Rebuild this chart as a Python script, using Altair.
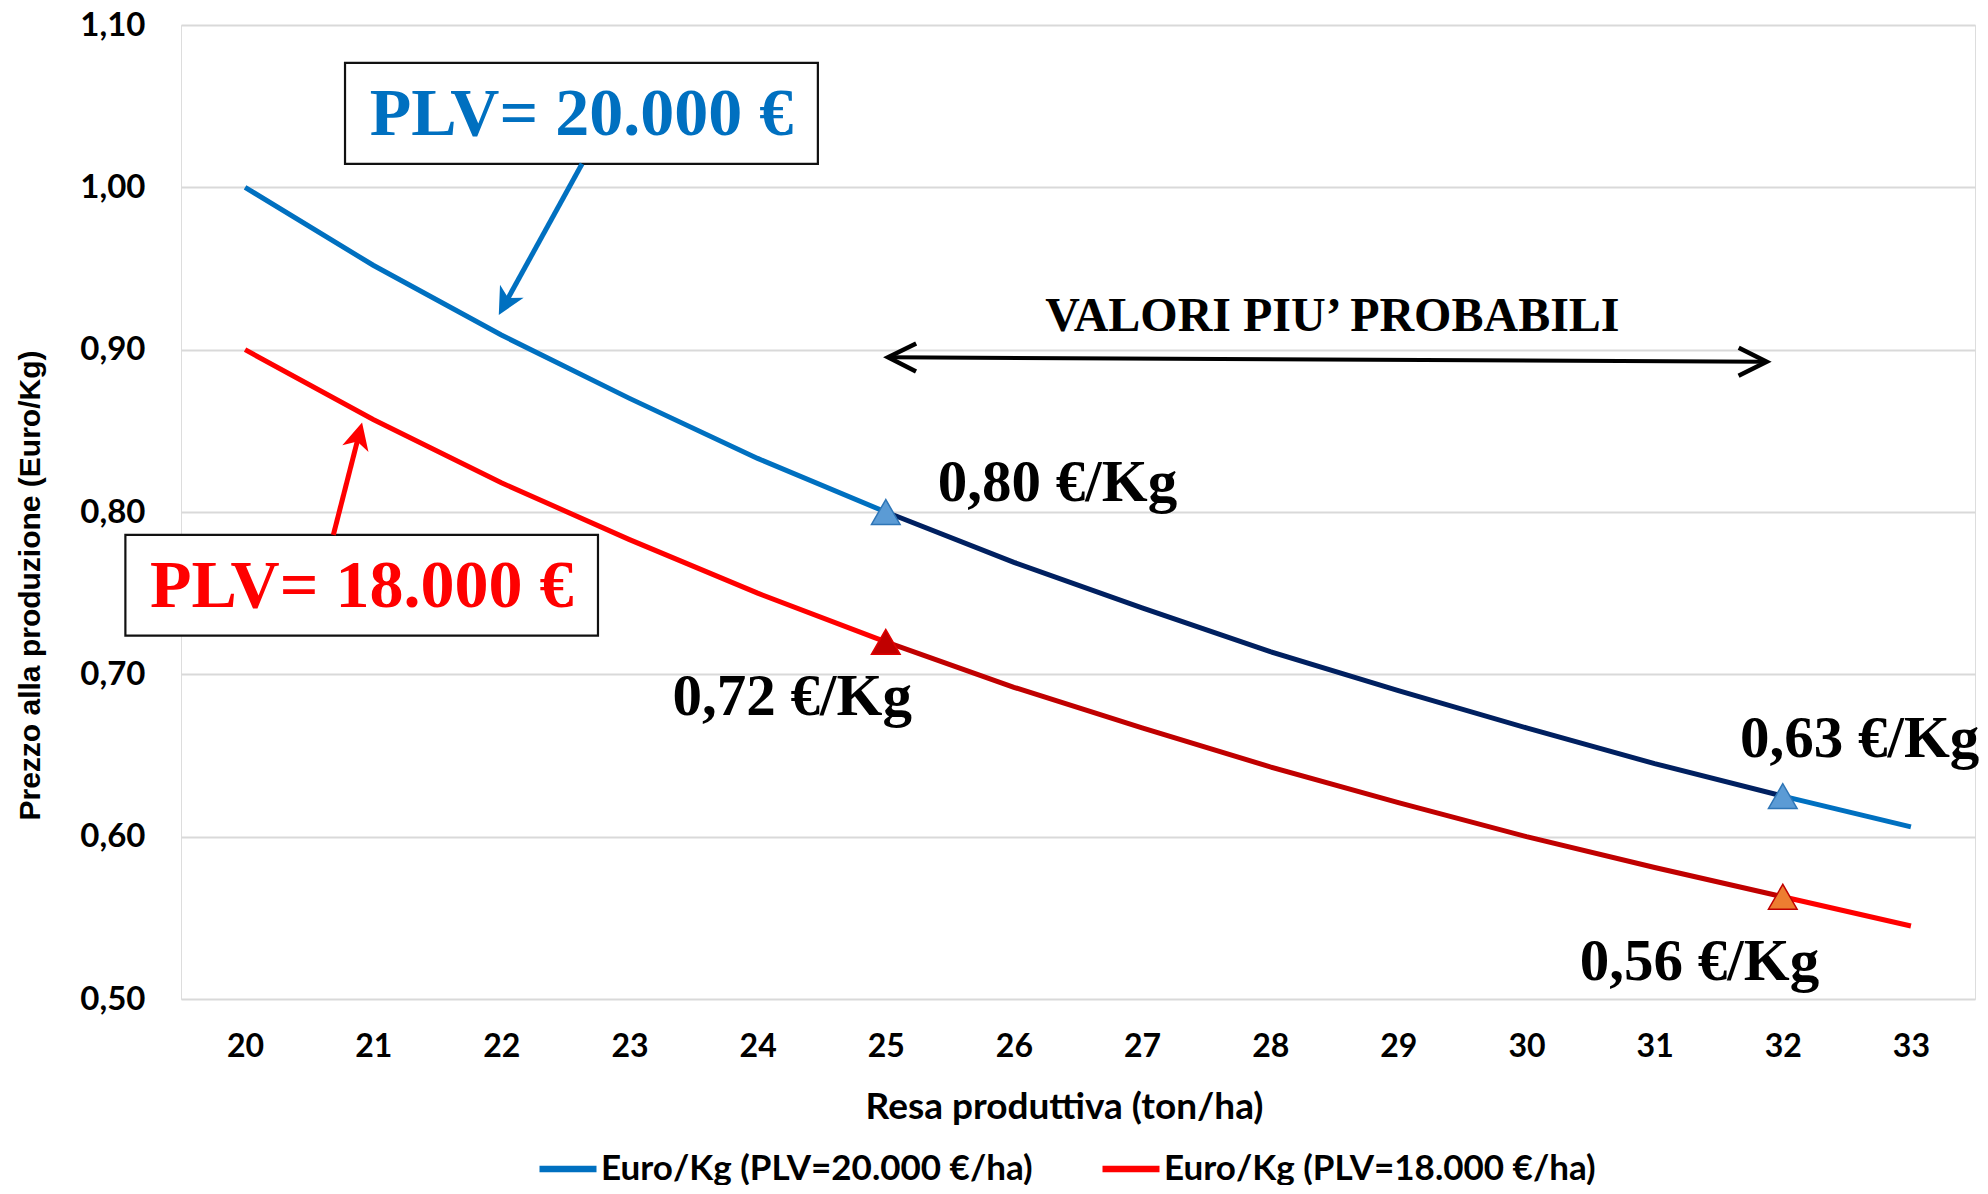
import math
import altair as alt
import pandas as pd

# ---------------- data ----------------
resa = [20, 21, 22, 23, 24, 25, 26, 27, 28, 29, 30, 31, 32, 33]
euro_kg_20000 = [1.000, 0.952, 0.909, 0.870, 0.833, 0.800, 0.769, 0.741,
                 0.714, 0.690, 0.667, 0.645, 0.625, 0.606]
euro_kg_18000 = [0.900, 0.857, 0.818, 0.783, 0.750, 0.720, 0.692, 0.667,
                 0.643, 0.621, 0.600, 0.581, 0.563, 0.545]
series_names = ["Euro/Kg (PLV=20.000 €/ha)", "Euro/Kg (PLV=18.000 €/ha)"]
y_ticks = [0.50, 0.60, 0.70, 0.80, 0.90, 1.00, 1.10]
probable_range = [25, 32]

value_labels = ["0,80 €/Kg", "0,72 €/Kg", "0,63 €/Kg", "0,56 €/Kg"]
value_label_x = [26.34, 24.27, 32.60, 31.35]
value_label_y = [0.818, 0.686, 0.660, 0.523]

box_texts = ["PLV= 20.000 €", "PLV= 18.000 €"]
box_x1 = [20.78, 19.066]
box_x2 = [24.47, 22.754]
box_y1 = [1.0145, 0.7238]
box_y2 = [1.0767, 0.7859]
box_text_y = [1.0445, 0.7536]
arrow_start_x = [22.63, 20.689]
arrow_start_y = [1.0145, 0.7859]
arrow_tip_x = [21.98, 20.913]
arrow_tip_y = [0.9214, 0.8551]

range_text = "VALORI PIU’ PROBABILI"
range_text_x = 28.485
range_text_y = 0.920
range_arrow_x = [25.018, 31.874]
range_arrow_y = [0.8953, 0.8925]

# ---------------- styling ----------------
W, H = 1794, 974
X_DOM = [19.5, 33.5]
Y_DOM = [0.5, 1.1]
PX_X = W / (X_DOM[1] - X_DOM[0])
PX_Y = H / (Y_DOM[1] - Y_DOM[0])

main_colors = ["#0070C0", "#FF0000"]
dark_colors = ["#002060", "#C00000"]
SERIF = "Liberation Serif"
SANS = "Lato"

xs = alt.Scale(domain=X_DOM, nice=False, zero=False)
ys = alt.Scale(domain=Y_DOM, nice=False, zero=False)

# ---------------- line data ----------------
rows = []
for name, vals in zip(series_names, [euro_kg_20000, euro_kg_18000]):
    lo, hi = probable_range
    for x, v in zip(resa, vals):
        if x <= lo:
            rows.append(dict(x=x, y=v, series=name, seg="a"))
        if lo <= x <= hi:
            rows.append(dict(x=x, y=v, series=name, seg="b"))
        if x >= hi:
            rows.append(dict(x=x, y=v, series=name, seg="c"))
df = pd.DataFrame(rows)

x_enc = alt.X(
    "x:Q", scale=xs,
    axis=alt.Axis(
        values=resa, format="d", grid=False, domain=False, ticks=False, tickSize=0,
        labelPadding=32, labelFont=SANS, labelFontSize=32, labelFontWeight="bold",
        labelColor="black", labelOverlap=False, labelFlush=False,
        title="Resa produttiva (ton/ha)", titleFont=SANS, titleFontSize=37,
        titleFontWeight="bold", titleColor="black", titleY=108, titleX=883,
        titleBaseline="middle",
    ),
)
y_enc = alt.Y(
    "y:Q", scale=ys,
    axis=alt.Axis(
        values=y_ticks, labelExpr="replace(format(datum.value, '.2f'), '.', ',')",
        grid=True, gridColor="#D9D9D9", gridWidth=2, domain=False, ticks=False,
        tickSize=0, labelPadding=36, labelFont=SANS, labelFontSize=33,
        labelFontWeight="bold", labelColor="black",
        title="Prezzo alla produzione (Euro/Kg)", titleFont="Liberation Sans",
        titleFontSize=30, titleFontWeight="bold", titleColor="black",
        titleX=-151, titleY=560, titleAngle=270, titleBaseline="middle",
        titleAlign="center",
    ),
)

base_lines = alt.Chart(df[df.seg != "b"]).mark_line(strokeWidth=5).encode(
    x=x_enc, y=y_enc,
    color=alt.Color(
        "series:N",
        scale=alt.Scale(domain=series_names, range=main_colors),
        sort=series_names,
        legend=alt.Legend(
            orient="none", legendX=355, legendY=1112, direction="horizontal",
            title=None, symbolType="stroke", symbolSize=3249, symbolStrokeWidth=6.5,
            labelFont=SANS, labelFontSize=35, labelFontWeight="bold",
            labelColor="black", labelOffset=1, columnPadding=56, padding=0,
            labelLimit=0,
        ),
    ),
    detail="seg:N",
)

dark_lines = alt.Chart(df[df.seg == "b"]).mark_line(strokeWidth=5).encode(
    x=alt.X("x:Q", scale=xs),
    y=alt.Y("y:Q", scale=ys),
    stroke=alt.Stroke(
        "series:N", scale=alt.Scale(domain=series_names, range=dark_colors),
        legend=None,
    ),
)

# ---------------- triangle markers ----------------
marker_specs = [
    (probable_range[0], euro_kg_20000[resa.index(probable_range[0])], "#5B9BD5", "#2E75B6"),
    (probable_range[1], euro_kg_20000[resa.index(probable_range[1])], "#5B9BD5", "#2E75B6"),
    (probable_range[0], euro_kg_18000[resa.index(probable_range[0])], "#C00000", "#E00000"),
    (probable_range[1], euro_kg_18000[resa.index(probable_range[1])], "#ED7D31", "#C00000"),
]
markers = []
for mx, my, fill, stroke in marker_specs:
    markers.append(
        alt.Chart(pd.DataFrame({"x": [mx], "y": [my]}))
        .mark_point(shape="triangle-up", size=820, filled=True, fill=fill,
                    stroke=stroke, strokeWidth=1.5, opacity=1)
        .encode(x=alt.X("x:Q", scale=xs), y=alt.Y("y:Q", scale=ys))
    )

# ---------------- annotation helpers ----------------
def screen_dir(x0, y0, x1, y1):
    dx = (x1 - x0) * PX_X
    dy = -(y1 - y0) * PX_Y
    L = math.hypot(dx, dy)
    return dx / L, dy / L, L


def angle_of(x0, y0, x1, y1):
    dx, dy, _ = screen_dir(x0, y0, x1, y1)
    return math.degrees(math.atan2(dx, -dy)) % 360


def pull_back(x0, y0, x1, y1, px):
    dx, dy, _ = screen_dir(x0, y0, x1, y1)
    return x1 - dx * px / PX_X, y1 + dy * px / PX_Y


STEALTH = "M0,0L0.5,1L0,0.72L-0.5,1Z"
OPEN_V = "M-0.5,1L0,0L0.5,1"

layers = [base_lines, dark_lines] + markers

# boxes with texts and arrows
for i in range(2):
    bdf = pd.DataFrame({"x": [box_x1[i]], "x2": [box_x2[i]],
                        "y": [box_y1[i]], "y2": [box_y2[i]]})
    layers.append(
        alt.Chart(bdf).mark_rect(fill="white", stroke="#111111", strokeWidth=2.2)
        .encode(x=alt.X("x:Q", scale=xs), x2="x2:Q",
                y=alt.Y("y:Q", scale=ys), y2="y2:Q")
    )
    tdf = pd.DataFrame({"x": [(box_x1[i] + box_x2[i]) / 2], "y": [box_text_y[i]],
                        "t": [box_texts[i]]})
    layers.append(
        alt.Chart(tdf).mark_text(font=SERIF, fontWeight="bold", fontSize=68,
                                 color=main_colors[i], align="center",
                                 baseline="middle")
        .encode(x=alt.X("x:Q", scale=xs), y=alt.Y("y:Q", scale=ys), text="t:N")
    )
    ex, ey = pull_back(arrow_start_x[i], arrow_start_y[i],
                       arrow_tip_x[i], arrow_tip_y[i], 14)
    sdf = pd.DataFrame({"x": [arrow_start_x[i]], "y": [arrow_start_y[i]],
                        "x2": [ex], "y2": [ey]})
    layers.append(
        alt.Chart(sdf).mark_rule(color=main_colors[i], strokeWidth=5)
        .encode(x=alt.X("x:Q", scale=xs), y=alt.Y("y:Q", scale=ys),
                x2="x2:Q", y2="y2:Q")
    )
    hdf = pd.DataFrame({"x": [arrow_tip_x[i]], "y": [arrow_tip_y[i]]})
    layers.append(
        alt.Chart(hdf).mark_point(
            shape=STEALTH, size=2916, filled=True, fill=main_colors[i],
            strokeWidth=0, opacity=1,
            angle=angle_of(arrow_start_x[i], arrow_start_y[i],
                           arrow_tip_x[i], arrow_tip_y[i]))
        .encode(x=alt.X("x:Q", scale=xs), y=alt.Y("y:Q", scale=ys))
    )

# double-headed range arrow
lx, ly = range_arrow_x[0], range_arrow_y[0]
rx, ry = range_arrow_x[1], range_arrow_y[1]
sx0, sy0 = pull_back(rx, ry, lx, ly, 2)
sx1, sy1 = pull_back(lx, ly, rx, ry, 2)
layers.append(
    alt.Chart(pd.DataFrame({"x": [sx0], "y": [sy0], "x2": [sx1], "y2": [sy1]}))
    .mark_rule(color="black", strokeWidth=4)
    .encode(x=alt.X("x:Q", scale=xs), y=alt.Y("y:Q", scale=ys),
            x2="x2:Q", y2="y2:Q")
)
for (ax, ay), (ox, oy) in [((lx, ly), (rx, ry)), ((rx, ry), (lx, ly))]:
    layers.append(
        alt.Chart(pd.DataFrame({"x": [ax], "y": [ay]}))
        .mark_point(shape=OPEN_V, size=3136, filled=False, stroke="black",
                    strokeWidth=4.5, strokeJoin="miter", opacity=1,
                    angle=angle_of(ox, oy, ax, ay))
        .encode(x=alt.X("x:Q", scale=xs), y=alt.Y("y:Q", scale=ys))
    )

layers.append(
    alt.Chart(pd.DataFrame({"x": [range_text_x], "y": [range_text_y],
                            "t": [range_text]}))
    .mark_text(font=SERIF, fontWeight="bold", fontSize=48, color="black",
               align="center", baseline="middle")
    .encode(x=alt.X("x:Q", scale=xs), y=alt.Y("y:Q", scale=ys), text="t:N")
)

layers.append(
    alt.Chart(pd.DataFrame({"x": value_label_x, "y": value_label_y,
                            "t": value_labels}))
    .mark_text(font=SERIF, fontWeight="bold", fontSize=59, color="black",
               align="center", baseline="middle")
    .encode(x=alt.X("x:Q", scale=xs), y=alt.Y("y:Q", scale=ys), text="t:N")
)

chart = (
    alt.layer(*layers)
    .properties(
        width=W, height=H,
        padding={"left": 173, "top": 17, "right": 5, "bottom": 186},
        autosize=alt.AutoSizeParams(type="none"),
        background="white",
    )
    .configure_view(strokeWidth=0)
    .configure(font=SANS)
)

chart.save("out.html", embed_options={"renderer": "svg", "actions": False})
